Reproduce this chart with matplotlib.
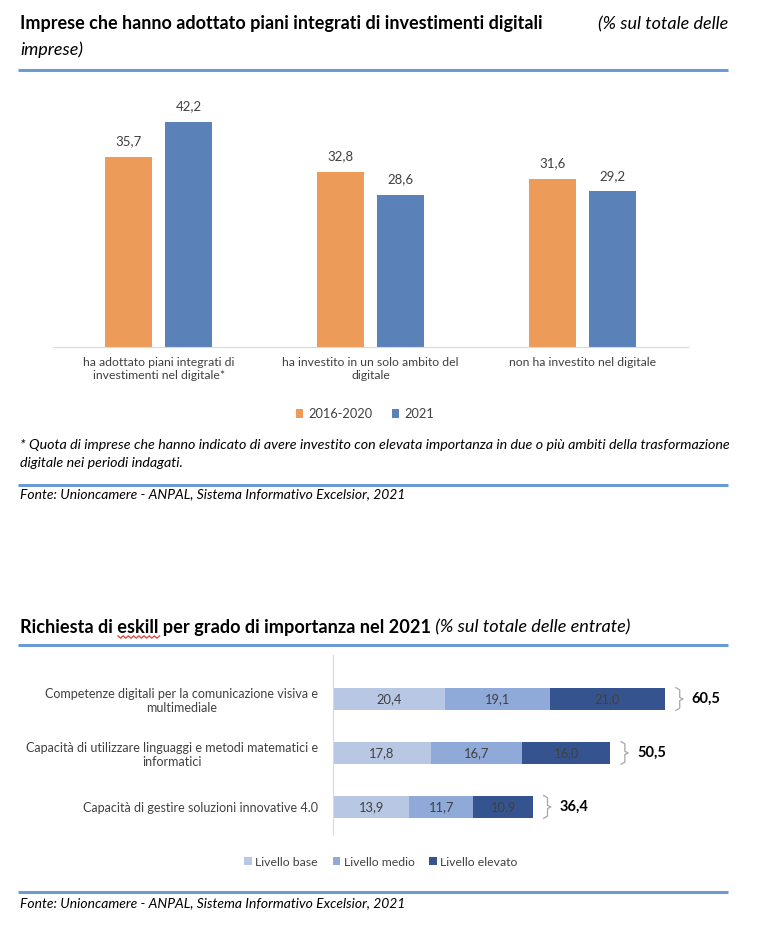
import matplotlib.pyplot as plt

plt.rcParams['font.family'] = ['Lato', 'DejaVu Sans']

# --- dati grafico 1
categorie = ['ha adottato piani integrati di\ninvestimenti nel digitale*',
             'ha investito in un solo ambito del\ndigitale',
             'non ha investito nel digitale']
periodo_2016_2020 = [35.7, 32.8, 31.6]
anno_2021 = [42.2, 28.6, 29.2]

# --- dati grafico 2
competenze = ['Competenze digitali per la comunicazione visiva e\nmultimediale',
              'Capacità di utilizzare linguaggi e metodi matematici e\ninformatici',
              'Capacità di gestire soluzioni innovative 4.0']
livello_base = [20.4, 17.8, 13.9]
livello_medio = [19.1, 16.7, 11.7]
livello_elevato = [21.0, 16.0, 10.9]
totali = [60.5, 50.5, 36.4]

ARANCIO = '#EC9B59'
BLU = '#5B81B9'
C_BASE = '#B8C7E4'
C_MEDIO = '#8FA9D8'
C_ELEV = '#35548F'
RIGA = '#6C9BD2'
GRIGIO = '#D9D9D9'
TESTO = '#404040'


def virgola(v):
    return f'{v:.1f}'.replace('.', ',')


W, H = 776, 930
fig = plt.figure(figsize=(W / 100, H / 100), dpi=100)

# sfondo in coordinate pixel per titoli, righe e note
bg = fig.add_axes([0, 0, 1, 1])
bg.set_xlim(0, W)
bg.set_ylim(H, 0)
bg.axis('off')


def box(l, t, r, b):
    return [l / W, 1 - b / H, (r - l) / W, (b - t) / H]


# titoli e righe
bg.text(20, 24, 'Imprese che hanno adottato piani integrati di investimenti digitali',
        fontsize=13, fontweight='bold', va='center')
bg.text(728, 24, '(% sul totale delle', fontsize=13, fontstyle='italic', va='center', ha='right')
bg.text(20, 50, 'imprese)', fontsize=13, fontstyle='italic', va='center')
for y in [70, 485, 645, 892]:
    bg.plot([18, 728], [y, y], color=RIGA, lw=2.2, solid_capstyle='butt')

bg.text(20, 445, '* Quota di imprese che hanno indicato di avere investito con elevata importanza '
        'in due o più ambiti della trasformazione', fontsize=10.3, fontstyle='italic', va='center')
bg.text(20, 463, 'digitale nei periodi indagati.', fontsize=10.3, fontstyle='italic', va='center')
bg.text(20, 494, 'Fonte: Unioncamere - ANPAL, Sistema Informativo Excelsior, 2021',
        fontsize=10, fontstyle='italic', va='center')
bg.text(20, 903, 'Fonte: Unioncamere - ANPAL, Sistema Informativo Excelsior, 2021',
        fontsize=10, fontstyle='italic', va='center')

t2 = bg.text(20, 627, 'Richiesta di eskill per grado di importanza nel 2021',
             fontsize=13.1, fontweight='bold', va='center', ha='left')
bg.annotate(' (% sul totale delle entrate)', xy=(1, 0.5), xycoords=t2, va='center', ha='left',
            fontsize=13.1, fontstyle='italic')
# sottolineatura ondulata del correttore ortografico
xs = [118 + i * 2.6 for i in range(17)]
bg.plot(xs, [637 + (1.2 if i % 2 else -1.2) for i in range(17)], color='#E0403A', lw=0.9)

# --- grafico 1: barre verticali
ax1 = fig.add_axes(box(53, 95, 688, 347))
pos = range(len(categorie))
b1 = ax1.bar([p - 0.142 for p in pos], periodo_2016_2020, width=0.222, color=ARANCIO, label='2016-2020')
b2 = ax1.bar([p + 0.142 for p in pos], anno_2021, width=0.222, color=BLU, label='2021')
ax1.bar_label(b1, labels=[virgola(v) for v in periodo_2016_2020], padding=7, fontsize=9.5, color=TESTO)
ax1.bar_label(b2, labels=[virgola(v) for v in anno_2021], padding=7, fontsize=9.5, color=TESTO)
ax1.set_xlim(-0.5, 2.5)
ax1.set_ylim(0, 47.3)
ax1.set_xticks(list(pos))
ax1.set_xticklabels(categorie, fontsize=8.8, color=TESTO)
ax1.tick_params(axis='x', length=0, pad=7)
ax1.set_yticks([])
for s in ['top', 'right', 'left']:
    ax1.spines[s].set_visible(False)
ax1.spines['bottom'].set_color(GRIGIO)
fig.legend(handles=[b1, b2], loc='center', bbox_to_anchor=(365 / W, 1 - 414 / H), ncol=2,
           frameon=False, fontsize=9.2, handlelength=0.6, handleheight=0.6,
           handletextpad=0.4, columnspacing=1.5, labelcolor=TESTO)

# --- grafico 2: barre orizzontali in pila
ax2 = fig.add_axes(box(333, 655, 728, 835))
ypos = list(range(len(competenze)))
h1 = ax2.barh(ypos, livello_base, height=0.41, color=C_BASE, label='Livello base')
h2 = ax2.barh(ypos, livello_medio, left=livello_base, height=0.41, color=C_MEDIO, label='Livello medio')
sinistra = [a + b for a, b in zip(livello_base, livello_medio)]
h3 = ax2.barh(ypos, livello_elevato, left=sinistra, height=0.41, color=C_ELEV, label='Livello elevato')
for cont, vals in [(h1, livello_base), (h2, livello_medio), (h3, livello_elevato)]:
    ax2.bar_label(cont, labels=[virgola(v) for v in vals], label_type='center',
                  fontsize=9.3, color=TESTO)
ax2.set_xlim(0, 72)
ax2.set_ylim(2.52, -0.815)
ax2.set_yticks(ypos)
ax2.set_yticklabels(competenze, fontsize=9.0, color=TESTO)
for lab in ax2.get_yticklabels():
    lab.set_multialignment('center')
ax2.tick_params(axis='y', length=0, pad=11)
ax2.set_xticks([])
for s in ['top', 'right', 'bottom']:
    ax2.spines[s].set_visible(False)
ax2.spines['left'].set_color(GRIGIO)

# parentesi graffe con i totali
for y, tot in zip(ypos, totali):
    x0, x1, xt = tot + 2.0, tot + 2.7, tot + 3.3
    top, bot = y - 0.21, y + 0.21
    ax2.plot([x0, x1, x1, xt, x1, x1, x0],
             [top, top + 0.04, y - 0.03, y, y + 0.03, bot - 0.04, bot],
             color='#A6A6A6', lw=0.9, clip_on=False)
    ax2.text(tot + 4.9, y, virgola(tot), fontsize=10.5, fontweight='bold', va='center', ha='left')

fig.legend(handles=[h1, h2, h3], loc='center', bbox_to_anchor=(381 / W, 1 - 862 / H), ncol=3,
           frameon=False, fontsize=8.8, handlelength=0.6, handleheight=0.6,
           handletextpad=0.3, columnspacing=1.2, labelcolor=TESTO)

fig.savefig('out.png', dpi=100)
